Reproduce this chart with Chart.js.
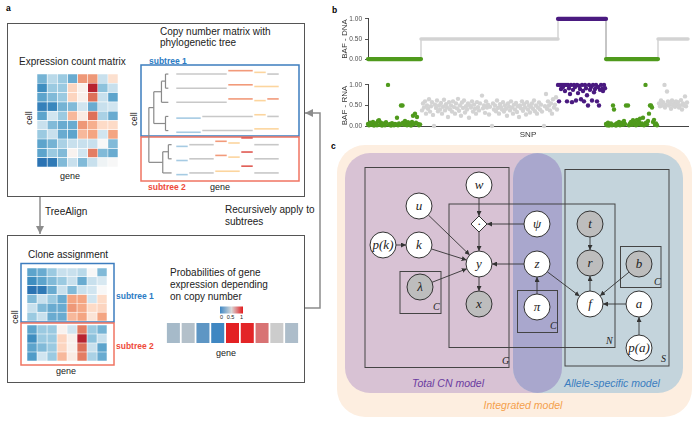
<!DOCTYPE html>
<html>
<head>
<meta charset="utf-8">
<script src="https://cdn.jsdelivr.net/npm/chart.js@4.4.0/dist/chart.umd.min.js"></script>
<style>
html, body { margin: 0; padding: 0; background: #fff; }
#fig { position: relative; width: 700px; height: 423px; overflow: hidden; font-family: "Liberation Sans", Arial, sans-serif; }
#fig svg { position: absolute; left: 0; top: 0; z-index: 0; }
#fig canvas { position: absolute; z-index: 1; display: block; }
</style>
</head>
<body>
<div id="fig">
<svg id="sk" width="700" height="423" xmlns="http://www.w3.org/2000/svg">
  <defs>
    <marker id="ahG" viewBox="0 0 10 10" refX="10" refY="5" markerUnits="userSpaceOnUse" markerWidth="8" markerHeight="8" orient="auto">
      <path d="M0,0 L10,5 L0,10 z" fill="#8c8c8c"/>
    </marker>
    <marker id="ahK" viewBox="0 0 10 10" refX="10" refY="5" markerUnits="userSpaceOnUse" markerWidth="5" markerHeight="5" orient="auto">
      <path d="M0,0 L10,5 L0,10 z" fill="#333"/>
    </marker>
    <linearGradient id="cbar" x1="0" x2="1" y1="0" y2="0">
      <stop offset="0" stop-color="#3f88c5"/>
      <stop offset="0.5" stop-color="#d9d9d9"/>
      <stop offset="1" stop-color="#e31a1c"/>
    </linearGradient>
    <clipPath id="blueClip"><rect x="513" y="153" width="170" height="240" rx="25"/></clipPath>
  </defs>

  <!-- panel labels -->
  <text x="6" y="11" font-size="8.5" font-weight="bold">a</text>
  <text x="332" y="13" font-size="8.5" font-weight="bold">b</text>
  <text x="331" y="148.5" font-size="8.5" font-weight="bold">c</text>

  <!-- panel a, top box -->
  <rect x="7.5" y="23.5" width="297" height="173" fill="none" stroke="#555" stroke-width="1"/>
  <text x="160" y="35" font-size="10" fill="#222">Copy number matrix with</text>
  <text x="160" y="46" font-size="10" fill="#222">phylogenetic tree</text>
  <text x="19" y="65" font-size="10" fill="#222">Expression count matrix</text>
  <text transform="translate(32,118) rotate(-90)" text-anchor="middle" font-size="9" fill="#222">cell</text>
  <text x="70" y="179" text-anchor="middle" font-size="9" fill="#222">gene</text>
  <text transform="translate(137,119) rotate(-90)" text-anchor="middle" font-size="9" fill="#222">cell</text>
  <text x="149" y="64" font-size="8.5" font-weight="bold" fill="#2b7bc4">subtree 1</text>
  <rect x="141" y="65" width="158" height="71" fill="none" stroke="#3d7dbf" stroke-width="1.5"/>
  <rect x="141" y="137" width="158" height="44" fill="none" stroke="#f07462" stroke-width="1.5"/>
  <text x="148" y="190" font-size="8.5" font-weight="bold" fill="#ee4a3a">subtree 2</text>
  <text x="220" y="190" text-anchor="middle" font-size="9" fill="#222">gene</text>

  <!-- arrows between boxes -->
  <line x1="40" y1="197" x2="40" y2="234" stroke="#8c8c8c" stroke-width="1.5" marker-end="url(#ahG)"/>
  <text x="45" y="215" font-size="10" fill="#222">TreeAlign</text>
  <text x="225" y="213" font-size="10" fill="#222">Recursively apply to</text>
  <text x="225" y="225" font-size="10" fill="#222">subtrees</text>
  <polyline points="305,308 320,308 320,113 305,113" fill="none" stroke="#8c8c8c" stroke-width="1.5" marker-end="url(#ahG)"/>

  <!-- panel a, bottom box -->
  <rect x="7.5" y="235.5" width="297" height="147" fill="none" stroke="#555" stroke-width="1"/>
  <text x="28" y="258" font-size="10" fill="#222">Clone assignment</text>
  <rect x="21" y="263.5" width="93" height="58.5" fill="none" stroke="#3d7dbf" stroke-width="1.5"/>
  <rect x="21" y="323" width="93" height="42" fill="none" stroke="#f07462" stroke-width="1.5"/>
  <text x="116" y="299" font-size="8.5" font-weight="bold" fill="#2b7bc4">subtree 1</text>
  <text x="116" y="349" font-size="8.5" font-weight="bold" fill="#ee4a3a">subtree 2</text>
  <text transform="translate(18,317) rotate(-90)" text-anchor="middle" font-size="9" fill="#222">cell</text>
  <text x="66" y="374" text-anchor="middle" font-size="9" fill="#222">gene</text>
  <text x="170" y="276" font-size="10" fill="#222">Probabilities of gene</text>
  <text x="170" y="288" font-size="10" fill="#222">expression depending</text>
  <text x="170" y="300" font-size="10" fill="#222">on copy number</text>
  <rect x="220" y="306.5" width="23" height="7" fill="url(#cbar)"/>
  <text x="221.5" y="319" text-anchor="middle" font-size="5.5" fill="#222">0</text>
  <text x="230.5" y="319" text-anchor="middle" font-size="5.5" fill="#222">0.5</text>
  <text x="241.5" y="319" text-anchor="middle" font-size="5.5" fill="#222">1</text>
  <text x="226" y="356" text-anchor="middle" font-size="9" fill="#222">gene</text>

  <!-- panel c backgrounds -->
  <rect x="337" y="145" width="355" height="272" rx="28" fill="#fdeee0"/>
  <rect x="345" y="153" width="217" height="240" rx="25" fill="#d8c2d4"/>
  <rect x="513" y="153" width="170" height="240" rx="25" fill="#c4d4dc"/>
  <rect x="345" y="153" width="217" height="240" rx="25" fill="#a9a7cd" clip-path="url(#blueClip)"/>

  <!-- plates -->
  <g fill="none" stroke="#444" stroke-width="1">
    <rect x="365" y="167.5" width="144" height="200"/>
    <rect x="449" y="204" width="166" height="143.5"/>
    <rect x="565" y="169.5" width="104" height="196.5"/>
    <rect x="400" y="271.5" width="41" height="42"/>
    <rect x="517.5" y="290.5" width="40" height="42"/>
    <rect x="620.5" y="246.5" width="40.5" height="41"/>
  </g>
  <g font-family="'Liberation Serif', 'DejaVu Serif', serif" font-style="italic" font-size="10" fill="#222">
    <text x="502" y="364">G</text>
    <text x="606" y="344">N</text>
    <text x="661" y="362">S</text>
    <text x="433" y="310">C</text>
    <text x="550" y="329">C</text>
    <text x="654" y="285">C</text>
  </g>
  <g id="edges"></g>
  <g id="nodes"></g>
  <g font-style="italic" font-size="10.5" text-anchor="middle">
    <text x="448" y="387" fill="#6a3aa0">Total CN model</text>
    <text x="612" y="387" fill="#3a7dc0">Allele-specific model</text>
    <text x="523" y="409" fill="#f4a04c">Integrated model</text>
  </g>
</svg>

<canvas id="hmTop" width="81" height="93" style="left:37px;top:74px"></canvas>
<canvas id="cnTree" width="143" height="113" style="left:143px;top:67px"></canvas>
<canvas id="hmSub1" width="80" height="53" style="left:27px;top:268px"></canvas>
<canvas id="hmSub2" width="80" height="36" style="left:27px;top:325px"></canvas>
<canvas id="probBar" width="133" height="20" style="left:166px;top:323px"></canvas>
<canvas id="bafDNA" width="352" height="54" style="left:340px;top:12px"></canvas>
<canvas id="bafRNA" width="352" height="62" style="left:340px;top:78px"></canvas>
</div>

<script>
// ---- panel a: expression heatmaps (values on a -1..1 diverging scale)
const exprTop = [
  [-0.45, -0.2, -0.3, -0.5, 0.45, 0.45, -0.15, 0.1],
  [-0.7, -0.3, -0.3, 0.15, 0.03, 0.95, -0.35, -0.15],
  [-0.55, -0.4, -0.3, 0.15, 0.03, 0.6, -0.15, -0.55],
  [-0.8, -0.75, -0.45, -0.4, -0.12, -0.5, -0.15, -0.12],
  [-0.55, -0.12, -0.3, 0.3, 0.05, 0.6, -0.25, -0.5],
  [-0.15, -0.4, -0.5, -0.5, 0.45, 0.35, 0.12, 0.12],
  [-0.3, -0.15, -0.5, -0.55, 0.3, 0.4, -0.12, 0.4],
  [-0.55, -0.45, -0.25, -0.15, -0.15, -0.15, 0.0, -0.4],
  [-0.55, -0.3, -0.4, 0.02, -0.12, 0.55, -0.4, -0.5],
  [-0.9, -0.85, -0.4, -0.15, -0.4, -0.15, -0.03, 0.0]
];
const exprSubtree1 = [
  [-0.55, -0.5, -0.3, -0.15, -0.15, -0.2, 0.0, -0.4],
  [-0.7, -0.55, -0.4, -0.3, -0.15, -0.5, -0.15, -0.1],
  [-0.9, -0.85, -0.5, -0.15, -0.4, -0.15, -0.12, 0.0],
  [-0.4, -0.15, -0.3, -0.5, 0.4, 0.4, -0.12, 0.12],
  [-0.15, -0.4, -0.5, -0.5, 0.45, 0.38, 0.12, 0.15],
  [-0.3, -0.15, -0.5, -0.5, 0.3, 0.4, 0.08, 0.4]
];
const exprSubtree2 = [
  [-0.55, -0.3, -0.3, 0.02, -0.12, 0.55, -0.3, -0.45],
  [-0.7, -0.3, -0.3, 0.15, 0.03, 0.95, -0.35, -0.15],
  [-0.55, -0.4, -0.3, 0.15, 0.03, 0.6, -0.15, -0.55],
  [-0.6, -0.12, -0.3, 0.3, 0.05, 0.55, -0.25, -0.5]
];
// probability of expression depending on copy number, per gene
const geneProb = [0.38, 0.42, 0.15, 0.05, 0.98, 0.97, 0.75, 0.5, 0.4];

// ---- copy number segments per cell [startGene, endGene, state]
const cnRows = [
  [[0, 4, 2], [4, 6, 4], [6, 7, 3], [7, 8, 2]],
  [[0, 4, 2], [4, 6, 4], [6, 8, 3]],
  [[0, 4, 2], [4, 6, 4], [6, 7, 3], [7, 8, 4]],
  [[0, 2, 1], [2, 6, 2], [6, 7, 3], [7, 8, 2]],
  [[0, 2, 1], [2, 6, 2], [6, 8, 3]],
  [[0, 1, 1], [1, 3, 2], [3, 4, 4], [4, 5, 3], [5, 6, 6], [6, 8, 2]],
  [[0, 1, 1], [1, 3, 2], [3, 4, 4], [4, 5, 3], [5, 6, 6], [6, 8, 2]],
  [[0, 1, 1], [1, 3, 2], [3, 5, 3], [5, 6, 6], [6, 8, 2]]
];
// phylogenetic tree
const treeNames = ['root', 'D', 'B', 'A', 'C', 'F', 'E', 'c0', 'c1', 'c2', 'c3', 'c4', 'c5', 'c6', 'c7'];
const treeParents = [null, 'root', 'D', 'B', 'D', 'root', 'F', 'A', 'A', 'B', 'C', 'C', 'E', 'E', 'F'];
const treeDepths = [-2.05, -1.67, -1.08, -0.77, -0.77, -0.98, -0.55, -0.55, -0.55, -0.55, -0.55, -0.55, -0.3, -0.3, -0.3];

// ---- panel b
const dnaSegStart = [0, 53, 190, 238, 290];
const dnaSegEnd = [53, 190, 238, 290, 320];
const dnaSegBAF = [0, 0.5, 1, 0, 0.5];
const dnaSegClass = ['green', 'gray', 'purple', 'green', 'gray'];

const rnaGreen = [[0,0.05],[1,0.02],[2,0.08],[3,0.03],[4,0.06],[5,0.1],[6,0.01],[7,0.04],[8,0.07],[9,0.02],[10,0.12],[11,0.14],[12,0.03],[13,0.08],[14,0.01],[15,0.04],[16,0.06],[17,0.02],[18,0.09],[20,1.0],[21,0.03],[22,0.05],[23,0.01],[24,0.07],[25,0.03],[26,0.02],[27,0.05],[28,0.04],[29,0.2],[30,0.02],[31,0.06],[32,0.03],[33,0.5],[34.5,0.5],[35,0.08],[36,0.03],[37,0.12],[38,0.05],[39,0.02],[40,0.09],[41,0.04],[42,0.06],[43,0.01],[44,0.1],[45,0.25],[46,0.04],[47,0.3],[48,0.08],[49,0.22],[50,0.05],[51,0.02],[52,0.04],
  [238,0.05],[239,0.02],[240,0.08],[241,0.01],[242,0.03],[243,0.06],[244,0.02],[245,0.5],[246,0.4],[247,0.04],[248,0.01],[249,0.07],[250,0.03],[251,0.1],[252,0.02],[253,0.05],[254,0.08],[255,0.03],[256,0.12],[257,0.05],[258,0.5],[260,0.5],[261,0.02],[262,0.06],[263,0.1],[264,0.03],[265,0.14],[266,0.05],[267,0.08],[268,0.02],[269,0.15],[270,0.04],[271,0.1],[272,0.18],[273,0.03],[274,0.06],[275,0.2],[276,0.02],[277.5,1.0],[278,0.08],[279,0.04],[280,0.12],[281,0.3],[282,0.5],[283,0.5],[284,0.45],[285,0.1],[286,0.15],[287,0.03],[288,0.06],[289,0.02]];
const rnaGray = [[54,0.38],[55,0.55],[56,0.45],[57,0.6],[58,0.3],[59,0.5],[60,0.42],[61,0.65],[62,0.35],[63,0.48],[64,0.58],[65,0.27],[66,0.0],[67,0.52],[68,0.44],[69,0.62],[70,0.36],[71,0.5],[72,0.4],[73,0.56],[74,0.3],[75,0.47],[76,0.64],[77,0.38],[78,0.53],[79,0.45],[80,0.22],[81,0.58],[82,0.41],[83,0.5],[84,0.35],[85,0.6],[86,0.46],[87,0.3],[88,0.55],[89,0.43],[90,0.66],[91,0.37],[92,0.5],[93,0.25],[94,0.57],[95,0.44],[96,0.62],[97,0.33],[98,0.48],[99,0.4],[100,0.55],[101,0.2],[102,0.5],[103,0.45],[104,0.6],[105,0.35],[106,0.52],[107,0.42],[108,0.3],[109,0.58],[110,0.46],[111,0.38],[112,0.55],[114,0.74],[115,0.43],[116,0.5],[117,0.32],[118,0.6],[119,0.45],[120,0.52],[121,0.28],[122,0.47],[124,0.0],[125,0.55],[126,0.4],[127,0.5],[128,0.36],[129,0.62],[130,0.44],[131,0.3],[132,0.53],[133,0.46],[134,0.4],[135,0.58],[136,0.35],[137,0.5],[138,0.42],[139,0.25],[140,0.55],[141,0.47],[142,0.38],[143,0.6],[144,0.45],[145,0.3],[146,0.52],[147,0.4],[148,0.56],[149,0.34],[150,0.48],[151,0.22],[152,0.5],[153,0.43],[154,0.6],[155,0.37],[156,0.53],[157,0.45],[158,0.28],[159,0.58],[160,0.4],[161,0.5],[162,0.33],[163,0.47],[164,0.55],[165,0.42],[166,0.62],[167,0.36],[168,0.5],[169,0.3],[170,0.45],[171,0.57],[172,0.4],[173,0.52],[174,0.35],[176,0.0],[177,0.48],[178,0.78],[179,0.42],[180,0.6],[181,0.5],[182,0.38],[183,0.55],[184,0.3],[185,0.65],[186,0.45],[187,0.52],[188,0.7],[189,0.4],
  [291,0.55],[292,0.48],[293,0.62],[294,0.5],[295,0.58],[296.5,1.0],[297,0.45],[298,0.52],[299,0.84],[300,0.6],[301,0.5],[302,0.56],[303,0.42],[304,0.62],[305,0.5],[306,0.55],[307,0.47],[308,0.6],[309,0.52],[310,0.58],[311,0.45],[312,0.5],[313,0.63],[314,0.4],[315,0.55],[316,0.5],[317,0.72],[318,0.48],[319,0.57]];
const rnaPurple = [[190,1],[191,0.6],[192,1],[193,0.9],[194,1],[195,0.95],[196,1],[197,0.85],[198,1],[199,0.6],[200,1],[201,0.92],[202,0.78],[203,1],[204,0.58],[205,0.88],[206,1],[207,0.95],[208,0.62],[209,1],[210,0.8],[211,0.98],[212,0.9],[213,0.65],[214,1],[215,0.85],[216,0.6],[217,1],[218,0.92],[219,0.75],[220,0.5],[221,1],[222,0.88],[223,0.95],[224,0.62],[225,1],[226,0.82],[227,0.9],[228,1],[229,0.6],[230,0.95],[231,0.5],[232,0.88],[233,1],[234,0.9],[235,0.85],[236,1],[237,0.92]];

const baseColors = { green: '#4f9a1c', gray: '#d3d3d3', purple: '#4a1a80' };
const cnColors = { 1: '#a6cbe3', 2: '#c8c8c8', 3: '#fcd59e', 4: '#f29a7a', 6: '#e05a52' };

Chart.defaults.font.family = "'Liberation Sans', Arial, sans-serif";
Chart.defaults.animation = false;
Chart.defaults.plugins.legend.display = false;
Chart.defaults.plugins.tooltip.enabled = false;

function mix(stops, v) {
  if (v <= stops[0][0]) return stops[0][1];
  for (let i = 1; i < stops.length; i++) {
    if (v <= stops[i][0]) {
      const [a, ca] = stops[i - 1], [b, cb] = stops[i];
      const t = (v - a) / (b - a);
      return ca.map((c, j) => Math.round(c + (cb[j] - c) * t));
    }
  }
  return stops[stops.length - 1][1];
}
const rdbuStops = [[-1,[33,102,172]],[-0.66,[67,147,195]],[-0.33,[146,197,222]],[-0.12,[209,229,240]],[0,[247,247,247]],[0.12,[253,219,199]],[0.4,[244,165,130]],[0.66,[214,96,77]],[1,[178,24,43]]];
const probStops = [[0,[47,127,193]],[0.5,[204,204,204]],[1,[228,26,28]]];
const rgb = c => 'rgb(' + c.join(',') + ')';

function heatmap(id, rows) {
  const nCol = rows[0].length;
  const datasets = [];
  for (let c = 0; c < nCol; c++) {
    datasets.push({
      data: rows.map(() => 1),
      backgroundColor: rows.map(r => rgb(mix(rdbuStops, r[c]))),
      borderColor: '#ffffff', borderWidth: 0.6, borderSkipped: false,
      barPercentage: 1, categoryPercentage: 1
    });
  }
  new Chart(document.getElementById(id), {
    type: 'bar',
    data: { labels: rows.map((_, i) => i), datasets },
    options: {
      indexAxis: 'y', responsive: false, devicePixelRatio: 1, layout: { padding: 0 },
      scales: { x: { stacked: true, display: false, min: 0, max: nCol }, y: { stacked: true, display: false } }
    }
  });
}
heatmap('hmTop', exprTop);
heatmap('hmSub1', exprSubtree1);
heatmap('hmSub2', exprSubtree2);

new Chart(document.getElementById('probBar'), {
  type: 'bar',
  data: {
    labels: geneProb.map((_, i) => i),
    datasets: [{ data: geneProb.map(() => 1), backgroundColor: geneProb.map(p => rgb(mix(probStops, p))),
      barPercentage: 0.88, categoryPercentage: 1 }]
  },
  options: {
    responsive: false, devicePixelRatio: 1, layout: { padding: 0 },
    scales: { x: { display: false }, y: { display: false, min: 0, max: 1 } }
  }
});

// tree + copy number lines
(function () {
  const idx = n => treeNames.indexOf(n);
  const children = n => treeNames.filter((_, i) => treeParents[i] === n);
  const nodeY = n => {
    const ch = children(n);
    if (!ch.length) return parseInt(n.slice(1), 10);
    return ch.reduce((s, c) => s + nodeY(c), 0) / ch.length;
  };
  const ds = [];
  const line = (pts, color, w) => ds.push({ data: pts, showLine: true, borderColor: color, borderWidth: w, pointRadius: 0, borderCapStyle: 'butt' });
  treeNames.forEach((n, i) => {
    const ch = children(n);
    if (ch.length) {
      const ys = ch.map(nodeY);
      line([{ x: treeDepths[i], y: Math.min(...ys) }, { x: treeDepths[i], y: Math.max(...ys) }], '#8a8a8a', 1.2);
    }
    if (treeParents[i]) {
      const p = idx(treeParents[i]);
      line([{ x: treeDepths[p], y: nodeY(n) }, { x: treeDepths[i], y: nodeY(n) }], '#8a8a8a', 1.2);
    }
  });
  cnRows.forEach((segs, r) => {
    segs.forEach(([s, e, st]) => {
      const off = (2 - st) * 0.12;
      line([{ x: s + 0.06, y: r + off }, { x: e - 0.06, y: r + off }], cnColors[st], 1.6);
    });
  });
  new Chart(document.getElementById('cnTree'), {
    type: 'scatter',
    data: { datasets: ds },
    options: {
      responsive: false, devicePixelRatio: 1, layout: { padding: 0 },
      scales: { x: { display: false, min: -2.5, max: 8.5 }, y: { display: false, min: -0.5, max: 7.5, reverse: true } }
    }
  });
})();

// panel b
const yAxis = title => ({
  min: 0, max: 1,
  afterFit: s => { s.width = 28; },
  ticks: { stepSize: 0.25, callback: v => v.toFixed(2), font: { size: 6.5 }, color: '#4d4d4d', padding: 3 },
  grid: { drawOnChartArea: false, drawTicks: true, tickLength: 3, tickColor: '#555' },
  border: { display: true, color: '#444', width: 1 },
  title: { display: true, text: title, font: { size: 8 }, color: '#333', padding: 0 }
});

(function () {
  const ds = [];
  const conn = [];
  dnaSegStart.forEach((s, i) => {
    conn.push({ x: s, y: dnaSegBAF[i] }, { x: dnaSegEnd[i], y: dnaSegBAF[i] });
  });
  // connector sits underneath the coloured segments (higher order is drawn first)
  ds.push({ data: conn, showLine: true, borderColor: '#bdbdbd', borderWidth: 1, pointRadius: 0, order: 10 });
  dnaSegStart.forEach((s, i) => {
    ds.push({ data: [{ x: s, y: dnaSegBAF[i] }, { x: dnaSegEnd[i], y: dnaSegBAF[i] }], showLine: true,
      borderColor: baseColors[dnaSegClass[i]], borderWidth: dnaSegClass[i] === 'gray' ? 3.5 : 4.2,
      borderCapStyle: 'round', pointRadius: 0, order: 1 });
  });
  new Chart(document.getElementById('bafDNA'), {
    type: 'scatter',
    data: { datasets: ds },
    options: {
      responsive: false, devicePixelRatio: 1, clip: false,
      layout: { padding: { top: 6, bottom: 6, left: 0, right: 4 } },
      scales: { x: { display: false, min: 0, max: 320 }, y: yAxis('BAF - DNA') }
    }
  });

  const pts = arr => arr.map(([x, y]) => ({ x, y }));
  new Chart(document.getElementById('bafRNA'), {
    type: 'scatter',
    data: { datasets: [
      { data: pts(rnaGray), backgroundColor: baseColors.gray, pointRadius: 2.2, borderWidth: 0, order: 3 },
      { data: pts(rnaGreen), backgroundColor: baseColors.green, pointRadius: 2.2, borderWidth: 0, order: 2 },
      { data: pts(rnaPurple), backgroundColor: baseColors.purple, pointRadius: 2.2, borderWidth: 0, order: 1 }
    ] },
    options: {
      responsive: false, devicePixelRatio: 1, clip: false,
      layout: { padding: { top: 6, bottom: 0, left: 0, right: 4 } },
      scales: {
        x: { min: 0, max: 320, afterFit: s => { s.height = 14; },
          ticks: { display: false }, grid: { display: false },
          border: { display: true, color: '#444', width: 1 },
          title: { display: true, text: 'SNP', font: { size: 8 }, color: '#333', padding: 0 } },
        y: yAxis('BAF - RNA')
      }
    }
  });
})();

// panel c: graphical model
(function () {
  const NS = 'http://www.w3.org/2000/svg';
  const nodes = {
    w: [479, 185, 'w', 0], u: [419, 206, 'u', 0], psi: [537, 224, 'ψ', 0], pk: [383, 245, 'p(k)', 0],
    k: [419, 245, 'k', 0], y: [479, 264, 'y', 0], z: [537, 264, 'z', 0], t: [590, 224, 't', 1],
    r: [590, 263, 'r', 1], b: [639, 264, 'b', 1], lam: [420, 287, 'λ', 1], x: [479, 304, 'x', 1],
    pi: [537, 307, 'π', 0], f: [590, 304, 'f', 0], a: [639, 304, 'a', 0], pa: [639, 348, 'p(a)', 0],
    dot: [479, 224, '·', 2]
  };
  const edges = [['w','dot'],['psi','dot'],['dot','y'],['u','y'],['k','y'],['pk','k'],['z','y'],['lam','y'],
    ['y','x'],['pi','z'],['z','f'],['t','r'],['f','r'],['b','f'],['a','f'],['pa','a']];
  const R = 13;
  const eg = document.getElementById('edges'), ng = document.getElementById('nodes');
  const rad = n => nodes[n][3] === 2 ? 8 : R;
  edges.forEach(([s, e]) => {
    const [x1, y1] = nodes[s], [x2, y2] = nodes[e];
    const d = Math.hypot(x2 - x1, y2 - y1), ux = (x2 - x1) / d, uy = (y2 - y1) / d;
    const l = document.createElementNS(NS, 'line');
    l.setAttribute('x1', x1 + ux * rad(s)); l.setAttribute('y1', y1 + uy * rad(s));
    l.setAttribute('x2', x2 - ux * rad(e)); l.setAttribute('y2', y2 - uy * rad(e));
    l.setAttribute('stroke', '#333'); l.setAttribute('stroke-width', '0.9');
    l.setAttribute('marker-end', 'url(#ahK)');
    eg.appendChild(l);
  });
  Object.keys(nodes).forEach(k => {
    const [cx, cy, label, kind] = nodes[k];
    let shape;
    if (kind === 2) {
      shape = document.createElementNS(NS, 'polygon');
      shape.setAttribute('points', `${cx},${cy - 8} ${cx + 8},${cy} ${cx},${cy + 8} ${cx - 8},${cy}`);
      shape.setAttribute('fill', '#fff');
    } else {
      shape = document.createElementNS(NS, 'circle');
      shape.setAttribute('cx', cx); shape.setAttribute('cy', cy); shape.setAttribute('r', R);
      shape.setAttribute('fill', kind === 1 ? '#bdbdbd' : '#fff');
    }
    shape.setAttribute('stroke', '#333'); shape.setAttribute('stroke-width', '1');
    ng.appendChild(shape);
    const t = document.createElementNS(NS, 'text');
    t.setAttribute('x', cx); t.setAttribute('y', cy + 4);
    t.setAttribute('text-anchor', 'middle');
    t.setAttribute('font-family', "'Liberation Serif', 'DejaVu Serif', serif");
    t.setAttribute('font-style', 'italic');
    t.setAttribute('font-size', kind === 2 ? '12' : '13');
    t.setAttribute('fill', '#222');
    t.textContent = label;
    ng.appendChild(t);
  });
})();
</script>
</body>
</html>
